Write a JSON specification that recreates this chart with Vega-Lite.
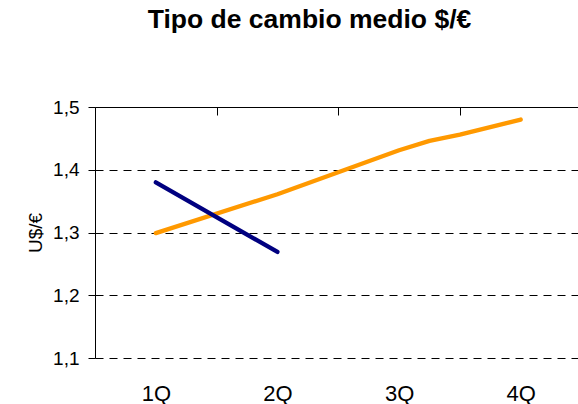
{
  "$schema": "https://vega.github.io/schema/vega-lite/v6.json",
  "autosize": "none",
  "width": 483,
  "height": 251,
  "padding": {"left": 95, "top": 107, "right": 0, "bottom": 46},
  "background": "white",
  "title": {
    "text": "Tipo de cambio medio $/€",
    "font": "Liberation Sans",
    "fontSize": 26.5,
    "fontWeight": "bold",
    "color": "black",
    "anchor": "middle",
    "frame": "group",
    "dx": -27,
    "baseline": "alphabetic",
    "offset": 44
  },
  "data": {
    "values": [
      {"serie": "a", "q": 1, "v": 1.299},
      {"serie": "a", "q": 2, "v": 1.361},
      {"serie": "a", "q": 3, "v": 1.431},
      {"serie": "a", "q": 3.25, "v": 1.446},
      {"serie": "a", "q": 3.5, "v": 1.456},
      {"serie": "a", "q": 4, "v": 1.48},
      {"serie": "b", "q": 1, "v": 1.38},
      {"serie": "b", "q": 2, "v": 1.269}
    ]
  },
  "encoding": {
    "y": {
      "field": "v",
      "type": "quantitative",
      "scale": {"domain": [1.1, 1.5], "nice": false, "zero": false},
      "axis": {
        "orient": "left",
        "values": [1.1, 1.2, 1.3, 1.4, 1.5],
        "labelExpr": "replace(format(datum.value, '.1f'), '.', ',')",
        "labelFont": "Liberation Sans",
        "labelFontSize": 19,
        "labelColor": "black",
        "labelPadding": 9,
        "tickSize": 7,
        "tickColor": "black",
        "domainColor": "black",
        "grid": true,
        "gridColor": "black",
        "gridDash": [8, 6],
        "gridOpacity": 1,
        "title": "U$/€",
        "titleFont": "Liberation Sans",
        "titleFontSize": 19,
        "titleFontWeight": "normal",
        "titleColor": "black",
        "titlePadding": 7
      }
    }
  },
  "layer": [
    {
      "mark": {"type": "line", "strokeWidth": 4.3, "strokeCap": "round", "strokeJoin": "round"},
      "encoding": {
        "x": {
          "field": "q",
          "type": "quantitative",
          "scale": {"domain": [0.5, 4.471], "nice": false, "zero": false},
          "axis": {
            "orient": "bottom",
            "values": [1, 2, 3, 4],
            "labelExpr": "datum.value + 'Q'",
            "labelFont": "Liberation Sans",
            "labelFontSize": 22,
            "labelColor": "black",
            "labelBaseline": "alphabetic",
            "labelPadding": 42,
            "ticks": false,
            "tickSize": 0,
            "domain": false,
            "grid": false,
            "title": null
          }
        },
        "color": {
          "field": "serie",
          "type": "nominal",
          "scale": {"domain": ["a", "b"], "range": ["#FF9900", "#000080"]},
          "legend": null
        }
      }
    },
    {
      "mark": {"type": "point", "opacity": 0},
      "encoding": {
        "x": {
          "field": "q",
          "type": "quantitative",
          "axis": {
            "orient": "top",
            "values": [1.5, 2.5, 3.5],
            "labels": false,
            "ticks": true,
            "tickSize": -8,
            "tickColor": "black",
            "domain": true,
            "domainColor": "black",
            "grid": false,
            "title": null
          }
        }
      }
    }
  ],
  "resolve": {"axis": {"x": "independent"}},
  "config": {"view": {"stroke": null}}
}
